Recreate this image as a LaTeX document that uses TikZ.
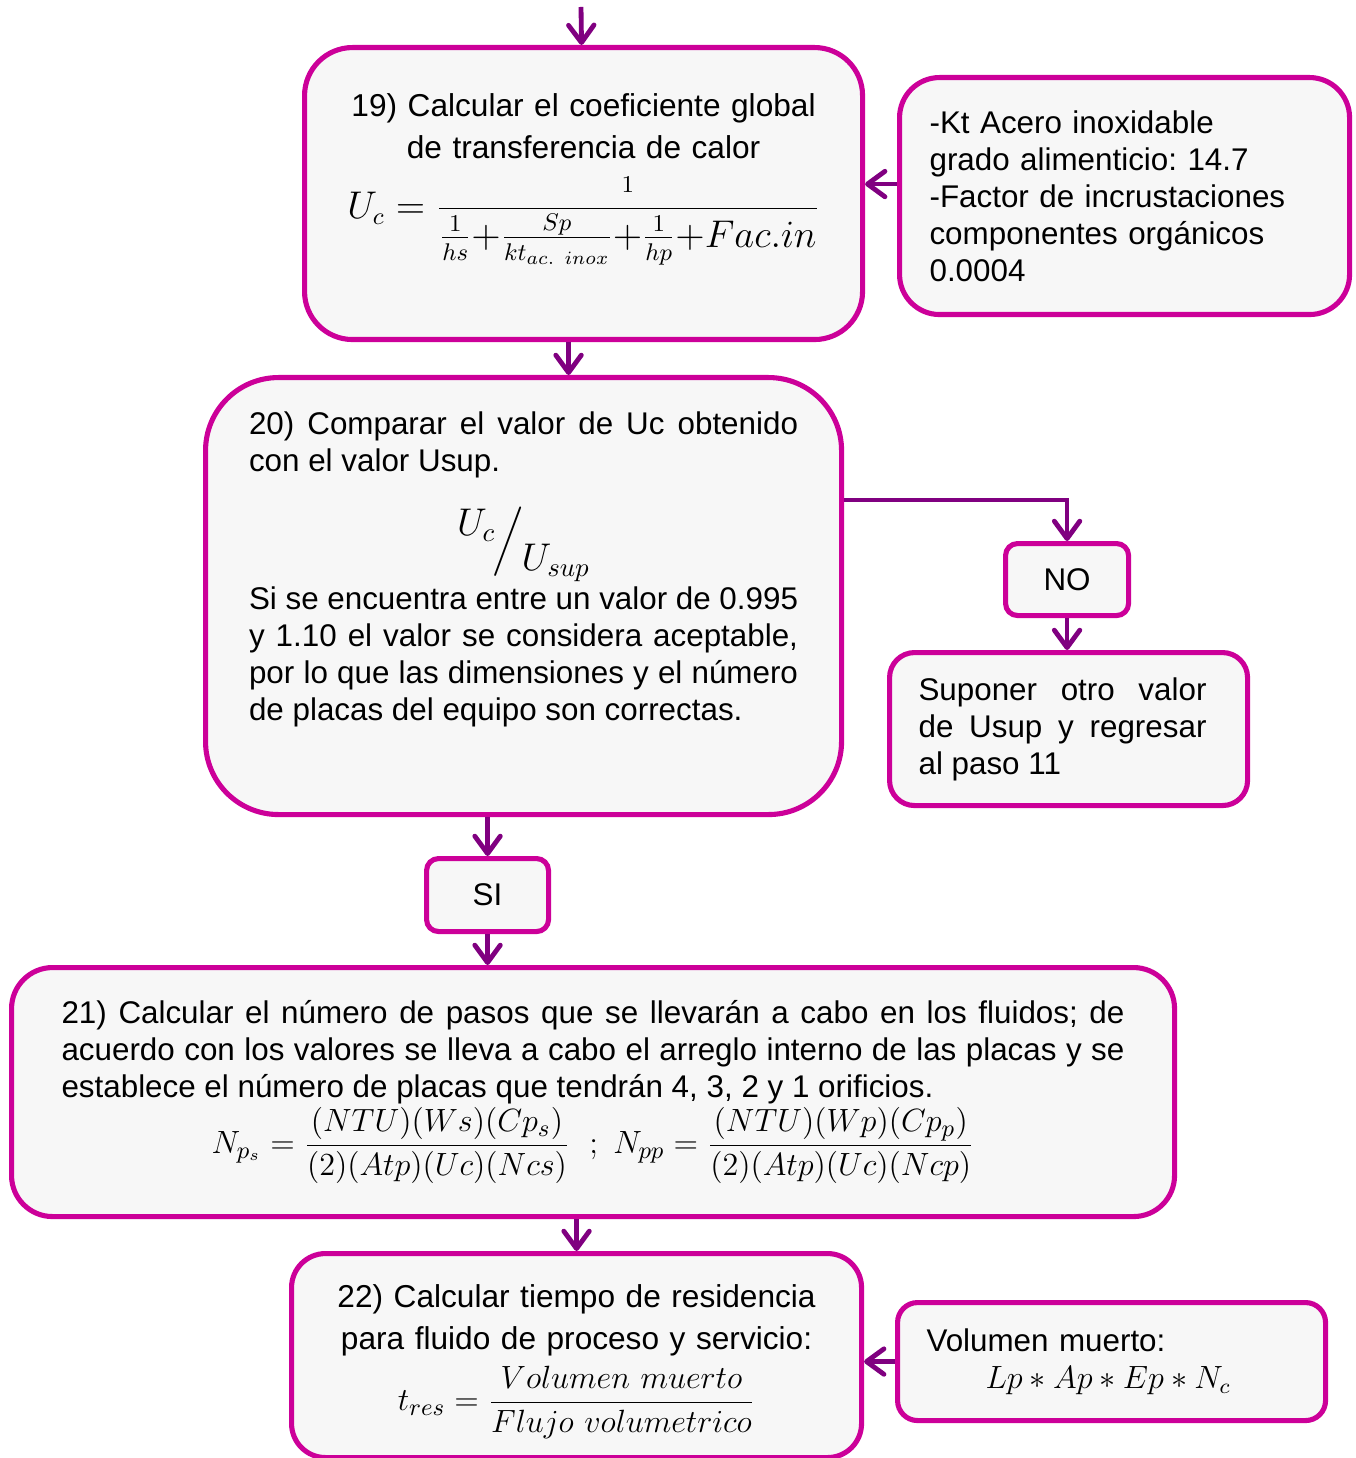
\documentclass[tikz,border=0pt]{standalone}
\usepackage{fontspec}
\setmainfont{Liberation Sans}
\usepackage{amsmath}
\usetikzlibrary{positioning, arrows.meta, calc}
\frenchspacing

\newcommand{\px}{0.373pt}
\definecolor{boxline}{RGB}{204,0,153}
\definecolor{arrline}{RGB}{128,0,128}
\definecolor{boxfill}{RGB}{247,247,247}

\begin{document}
\begin{tikzpicture}[
    x=\px, y=-\px,
    box/.style={draw=boxline, fill=boxfill, line width=1.9pt, inner sep=0pt, anchor=north west,
                font=\fontsize{11.7}{13.8}\selectfont},
    size/.style 2 args={minimum width=#1*\px, minimum height=#2*\px},
    stepbox/.style={box, align=center, font=\fontsize{11.8}{15.7}\selectfont},
    notebox/.style={box, align=left},
    tagbox/.style={box, rounded corners=12*\px},
    arr/.style={-{Straight Barb[length=6.5pt, width=9.5pt, round]}, line width=1.8pt, arrline},
]
\useasboundingbox (0,0) rectangle (1355,1458);

% --- Step 19 ---
\node[stepbox, size={558}{292}, rounded corners=48*\px, text width=540*\px] (calc19) at (302,45)
    {19) Calcular el coeficiente global\\ de transferencia de calor\\[6.5pt]
     \mbox{\fontsize{13.5}{16}\selectfont$\displaystyle U_c=\frac{\scriptstyle 1}{\frac{1}{hs}{+}\frac{Sp}{kt_{ac.\ inox}}{+}\frac{1}{hp}{+}Fac.in}$}\par
     \rule{0pt}{9.5pt}};
\node[notebox, size={450}{237}, rounded corners=40*\px, text width=390*\px] (info19) at (897,75)
    {-Kt Acero inoxidable\\ grado alimenticio: 14.7\\ -Factor de incrustaciones\\ componentes orgánicos\\ 0.0004};

% --- Step 20 ---
\node[box, size={636}{437}, rounded corners=73*\px, text width=549*\px, align=justify] (comp20) at (203,375)
    {20) Comparar el valor de Uc obtenido\linebreak con el valor Usup.\par\vspace{10pt}
     {\centering\fontsize{14}{16}\selectfont
      \raisebox{6pt}{$U_c$}\kern-1pt$\Big/$\kern-1pt\raisebox{-7pt}{$U_{sup}$}\par}\vspace{1pt}
     Si se encuentra entre un valor de 0.995\linebreak y 1.10 el valor se considera aceptable,\linebreak
     por lo que las dimensiones y el número\linebreak de placas del equipo son correctas.\par
     \rule{0pt}{19pt}};
\node[tagbox, size={123}{72}, align=center] (no20) at (1003,541) {NO};
\node[box, size={358}{153}, rounded corners=25*\px, text width=300*\px, align=justify] (retry20) at (887,650)
    {\rightskip=4.5pt Suponer otro valor\linebreak de Usup y regresar\linebreak al paso 11\par};
\node[tagbox, size={122}{73}, align=center] (si20) at (424,856) {SI};

% --- Step 21 ---
\node[box, size={1163}{249}, rounded corners=41*\px, text width=1063*\px, align=justify] (pasos21) at (9,965)
    {21) Calcular el número de pasos que se llevarán a cabo en los fluidos; de\linebreak
     acuerdo con los valores se lleva a cabo el arreglo interno de las placas y se\linebreak
     establece el número de placas que tendrán 4, 3, 2 y 1 orificios.\par
     {\centering\fontsize{13}{15}\selectfont
      \mbox{$N_{p_s}=\dfrac{(NTU)(Ws)(Cp_s)}{(2)(Atp)(Uc)(Ncs)}\ \ ;\ N_{pp}=\dfrac{(NTU)(Wp)(Cp_p)}{(2)(Atp)(Uc)(Ncp)}$}\par}};

% --- Step 22 ---
\node[stepbox, size={570}{204}, rounded corners=34*\px, text width=540*\px] (tiempo22) at (289,1251)
    {\rule{0pt}{13pt}22) Calcular tiempo de residencia\\ para fluido de proceso y servicio:\\[3pt]
     \mbox{\fontsize{13}{15}\selectfont$\displaystyle t_{res}=\frac{Volumen\ muerto}{Flujo\ volumetrico}$}};
\node[notebox, size={428}{118}, rounded corners=20*\px, text width=370*\px] (vol22) at (895,1300)
    {Volumen muerto:\\ \hspace*{22pt}$Lp*Ap*Ep*N_c$};

% --- Arrows ---
\coordinate (entry) at (581,7);
\draw[arr] (entry) -- (calc19);
\draw[arr] ([yshift=12*\px]info19.west) -- ([yshift=12*\px]info19.west -| calc19.east);
\draw[arr] ([xshift=-15*\px]calc19.south) -- ([xshift=-15*\px]calc19.south |- comp20.north);
\draw[arr] ([yshift=96*\px]comp20.east) -| (no20.north);
\draw[arr] (no20) -- (no20.south |- retry20.north);
\draw[arr] (si20.north |- comp20.south) -- (si20);
\draw[arr] (si20) -- (si20.south |- pasos21.north);
\draw[arr] (tiempo22.north |- pasos21.south) -- (tiempo22);
\draw[arr] (vol22) -- (vol22.west -| tiempo22.east);

\end{tikzpicture}
\end{document}
